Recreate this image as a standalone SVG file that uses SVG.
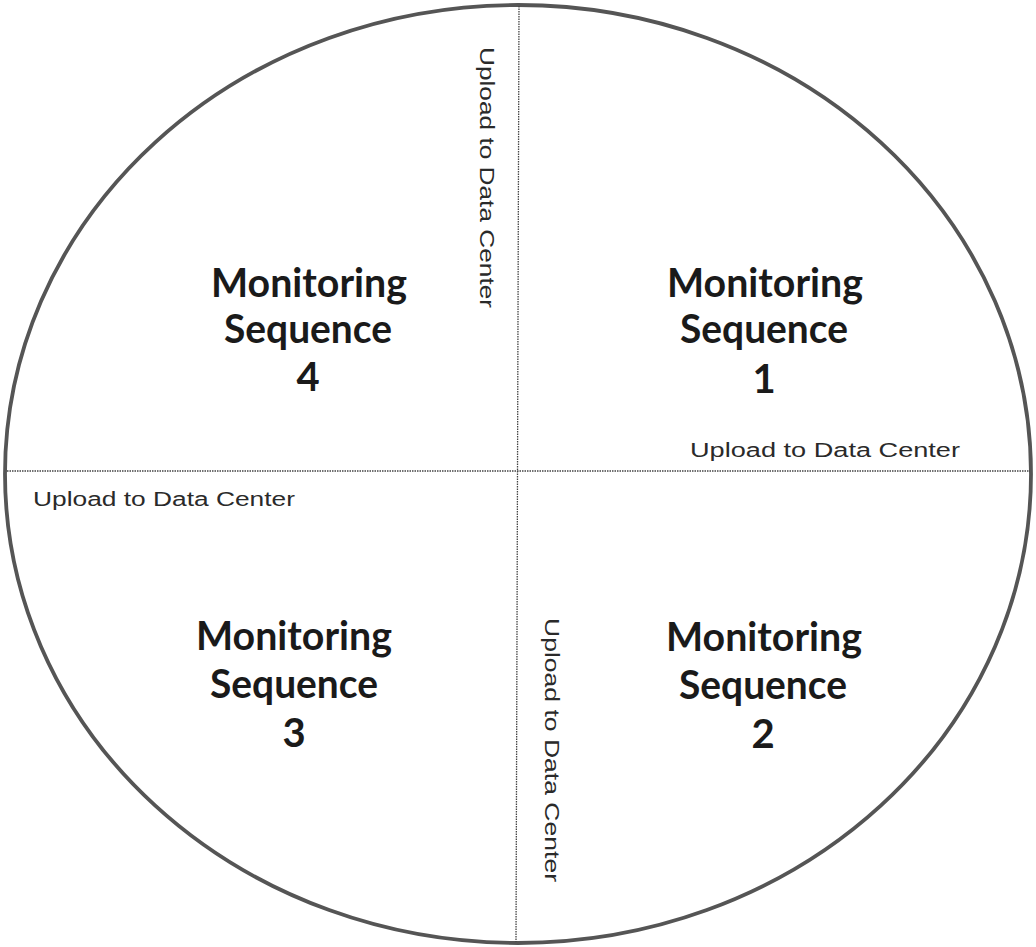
<svg xmlns="http://www.w3.org/2000/svg" width="1036" height="947" viewBox="0 0 1036 947">
<style>
.big{font-family:Lato,"Open Sans","Liberation Sans",sans-serif;font-weight:bold;font-size:40px;fill:#1a1a1a;text-anchor:middle}
.up{font-family:"Liberation Sans",Arial,sans-serif;font-size:20px;fill:#2a2a2a}
.div{stroke:#444;stroke-width:1.3;fill:none;stroke-dasharray:1.5 1}
</style>
<rect width="1036" height="947" fill="#fff"/>
<g id="circle">
<ellipse cx="518" cy="474" rx="513" ry="469" fill="none" stroke="#555" stroke-width="3.8"/>
</g>
<g id="connectors">
<line class="div" x1="519" y1="6" x2="516" y2="942"/>
<line class="div" x1="7" y1="471" x2="1030" y2="471"/>
</g>
<g id="seq1">
<text class="big" x="765" y="297" textLength="196" lengthAdjust="spacingAndGlyphs">Monitoring</text>
<text class="big" x="764" y="343" textLength="168" lengthAdjust="spacingAndGlyphs">Sequence</text>
<text class="big" x="764" y="393">1</text>
</g>
<g id="seq2">
<text class="big" x="764" y="651" textLength="196" lengthAdjust="spacingAndGlyphs">Monitoring</text>
<text class="big" x="763" y="699" textLength="168" lengthAdjust="spacingAndGlyphs">Sequence</text>
<text class="big" x="763" y="748">2</text>
</g>
<g id="seq3">
<text class="big" x="294" y="650" textLength="196" lengthAdjust="spacingAndGlyphs">Monitoring</text>
<text class="big" x="294" y="698" textLength="168" lengthAdjust="spacingAndGlyphs">Sequence</text>
<text class="big" x="294" y="747">3</text>
</g>
<g id="seq4">
<text class="big" x="309" y="297" textLength="196" lengthAdjust="spacingAndGlyphs">Monitoring</text>
<text class="big" x="308" y="343" textLength="168" lengthAdjust="spacingAndGlyphs">Sequence</text>
<text class="big" x="308" y="391">4</text>
</g>
<g id="upload-labels">
<text class="up" x="690" y="457" textLength="270" lengthAdjust="spacingAndGlyphs">Upload to Data Center</text>
<text class="up" x="33" y="506" textLength="262" lengthAdjust="spacingAndGlyphs">Upload to Data Center</text>
<text class="up" transform="translate(480,47) rotate(90)" textLength="261" lengthAdjust="spacingAndGlyphs">Upload to Data Center</text>
<text class="up" transform="translate(545,618) rotate(90)" textLength="264" lengthAdjust="spacingAndGlyphs">Upload to Data Center</text>
</g>
</svg>
